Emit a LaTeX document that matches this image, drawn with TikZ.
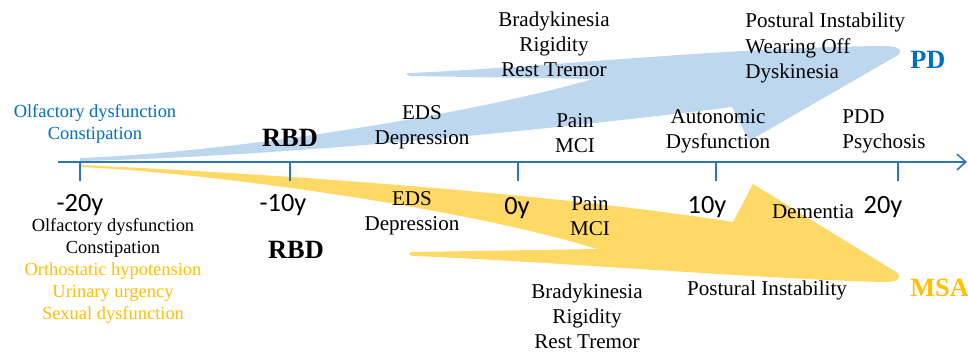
\documentclass[tikz,border=0pt]{standalone}
\usepackage{fontspec}
\setmainfont{Liberation Serif}
\newfontfamily\yearfont{Carlito}
\usetikzlibrary{positioning,arrows.meta}
\usepackage{xcolor}
\definecolor{pdblue}{RGB}{0,112,192}
\definecolor{pdfill}{RGB}{189,215,238}
\definecolor{msafill}{RGB}{255,217,102}
\definecolor{msagold}{RGB}{255,192,0}
\definecolor{axisblue}{RGB}{46,117,182}

\begin{document}
\begin{tikzpicture}[
    x=0.02cm, y=-0.02cm,
    lbl/.style={inner sep=0pt, align=center, font=\fontsize{12}{14.3}\selectfont},
    lbll/.style={inner sep=0pt, align=left, anchor=west, font=\fontsize{12}{14.3}\selectfont},
    small/.style={inner sep=0pt, align=center, font=\fontsize{10.5}{12.4}\selectfont},
    yearlbl/.style={inner sep=0pt, font=\yearfont\fontsize{15}{18}\selectfont},
    rbd/.style={inner sep=0pt, font=\fontsize{15}{18}\selectfont\bfseries},
    disease/.style={inner sep=0pt, anchor=west, text=#1,
                    font=\fontsize{15}{18}\selectfont\bfseries},
    tickline/.style={draw=axisblue, line width=0.9pt}
]
\useasboundingbox (0,0) rectangle (968,353);

% PD arrow
\fill[pdfill] (80,158) .. controls (240,152) and (480,112) .. (593,79)
  -- (411,76) .. controls (405,75) and (405,73) .. (411,73)
  .. controls (560,66) and (720,48) .. (880,46)
  .. controls (898,46) and (904,49) .. (898,55)
  -- (749,141) -- (732,107)
  .. controls (580,126) and (300,156) .. (80,161) -- cycle;

% MSA arrow
\fill[msafill] (80,165) .. controls (300,175) and (560,195) .. (733,222)
  -- (753,184) -- (896,272)
  .. controls (903,277) and (899,282) .. (884,282)
  .. controls (760,279) and (560,262) .. (414,256)
  .. controls (407,255) and (407,252) .. (414,252)
  -- (597,249)
  .. controls (480,212) and (230,174) .. (80,167) -- cycle;

% time axis
\coordinate (axL) at (58,162);
\coordinate (axR) at (967,162);
\draw[tickline, -{Straight Barb[length=5pt,width=9pt]}] (axL) -- (axR);

\coordinate (tA) at (80,162);
\coordinate (tB) at (290,162);
\coordinate (tC) at (518,162);
\coordinate (tD) at (716,162);
\coordinate (tE) at (898,162);
\draw[tickline] (tA) -- ++(0,19);
\draw[tickline] (tB) -- ++(0,19);
\draw[tickline] (tC) -- ++(0,19);
\draw[tickline] (tD) -- ++(0,19);
\draw[tickline] (tE) -- ++(0,19);

\node[yearlbl] (yA) at (80,205) {-20y};
\node[yearlbl] (yB) at (283,205) {-10y};
\node[yearlbl] (yC) at (517,208) {0y};
\node[yearlbl] (yD) at (707,207) {10y};
\node[yearlbl] (yE) at (883,207) {20y};

% PD side (above axis)
\node[small, text=pdblue] (pdEarly) at (95,124) {Olfactory dysfunction\\Constipation};
\node[rbd] (pdRbd) at (290,138) {RBD};
\node[lbl] (pdEds) at (422,127) {EDS\\Depression};
\node[lbl] (pdMotor) at (554,44) {Bradykinesia\\Rigidity\\Rest Tremor};
\node[lbl] (pdPain) at (575,133) {Pain\\MCI};
\node[lbl] (pdAuto) at (718,131) {Autonomic\\Dysfunction};
\node[lbll] (pdLate) at (745,48) {Postural Instability\\Wearing Off\\Dyskinesia};
\node[lbll] (pdPdd) at (842,131) {PDD\\Psychosis};
\node[disease=pdblue] (pd) at (910,60) {PD};

% MSA side (below axis)
\node[small] (msaEarly) at (113,271) {Olfactory dysfunction\\Constipation\\
  \textcolor{msagold}{Orthostatic hypotension}\\
  \textcolor{msagold}{Urinary urgency}\\
  \textcolor{msagold}{Sexual dysfunction}};
\node[rbd] (msaRbd) at (296,250) {RBD};
\node[lbl] (msaEds) at (412,213) {EDS\\Depression};
\node[lbl] (msaPain) at (590,216) {Pain\\MCI};
\node[lbl] (msaMotor) at (587,316) {Bradykinesia\\Rigidity\\Rest Tremor};
\node[lbl] (msaDem) at (813,212) {Dementia};
\node[lbl] (msaPost) at (767,290) {Postural Instability};
\node[disease=msagold] (msa) at (910,288) {MSA};

\end{tikzpicture}
\end{document}
